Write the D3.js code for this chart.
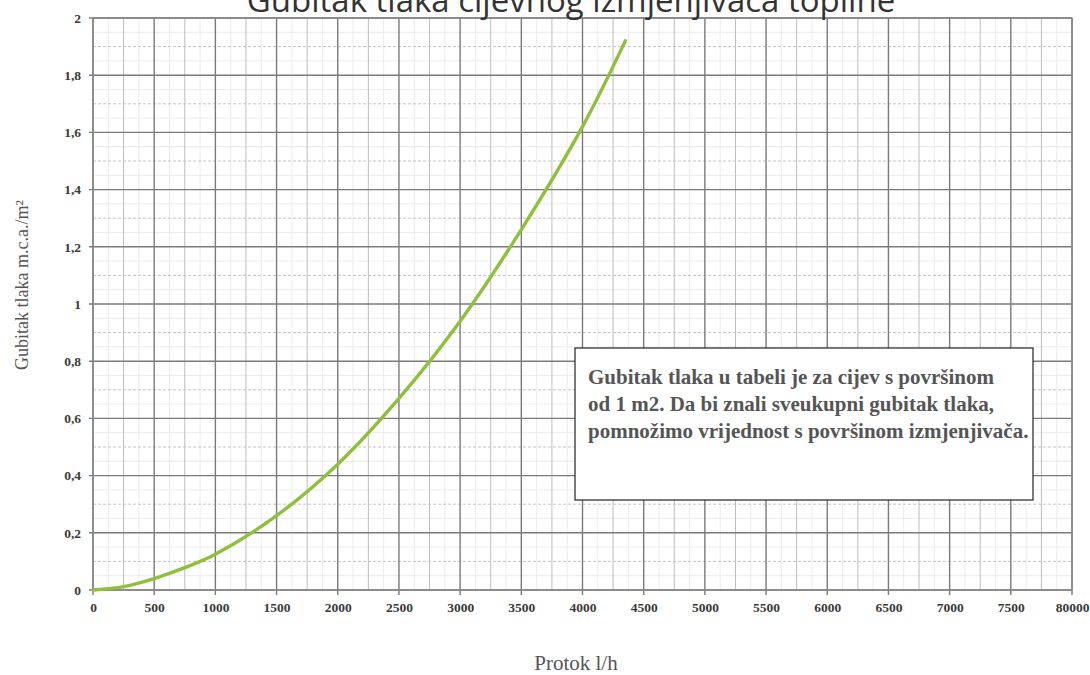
<!DOCTYPE html>
<html>
<head>
<meta charset="utf-8">
<script src="https://cdn.jsdelivr.net/npm/d3@7"></script>
<style>
  html, body { margin: 0; padding: 0; background: #fff; }
  svg { display: block; }
</style>
</head>
<body>
<svg id="chart" width="1090" height="675"></svg>
<script>
// ---- data ----
const flow = [0, 250, 500, 750, 1000, 1500, 2000, 2500, 3000, 3500, 4000, 4350];
const pressureLoss = [0, 0.012, 0.04, 0.078, 0.125, 0.26, 0.44, 0.67, 0.94, 1.26, 1.62, 1.92];
const xTickValues = [0, 500, 1000, 1500, 2000, 2500, 3000, 3500, 4000, 4500, 5000, 5500, 6000, 6500, 7000, 7500, 8000];
const xTickLabels = ["0", "500", "1000", "1500", "2000", "2500", "3000", "3500", "4000", "4500", "5000", "5500", "6000", "6500", "7000", "7500", "80000"];
const yTickValues = [0, 0.2, 0.4, 0.6, 0.8, 1, 1.2, 1.4, 1.6, 1.8, 2];
const yTickLabels = ["0", "0,2", "0,4", "0,6", "0,8", "1", "1,2", "1,4", "1,6", "1,8", "2"];
const titleText = "Gubitak tlaka cijevnog izmjenjivača topline";
const xTitle = "Protok l/h";
const yTitle = "Gubitak tlaka m.c.a./m²";
const noteLines = [
  "Gubitak tlaka u tabeli je za cijev s površinom",
  "od 1 m2. Da bi znali sveukupni gubitak tlaka,",
  "pomnožimo vrijednost s površinom izmjenjivača."
];

// ---- layout ----
const svg = d3.select("#chart");
const pL = 93, pR = 1072, pT = 18, pB = 590;
const x = d3.scaleLinear().domain([0, 8000]).range([pL, pR]);
const y = d3.scaleLinear().domain([0, 2]).range([pB, pT]);

const grid = svg.append("g");
// very faint fine grid
grid.selectAll(".fx").data(d3.range(0, 8001, 125).filter(v => v % 250 !== 0)).join("line")
  .attr("x1", d => x(d)).attr("x2", d => x(d)).attr("y1", pT).attr("y2", pB)
  .attr("stroke", "#ececec").attr("stroke-width", 1);
grid.selectAll(".fy").data(d3.range(0.05, 2, 0.1)).join("line")
  .attr("x1", pL).attr("x2", pR).attr("y1", d => y(d)).attr("y2", d => y(d))
  .attr("stroke", "#ececec").attr("stroke-width", 1);
// minor grid
grid.selectAll(".mx").data(d3.range(250, 8000, 500)).join("line")
  .attr("x1", d => x(d)).attr("x2", d => x(d)).attr("y1", pT).attr("y2", pB)
  .attr("stroke", "#bdbdbd").attr("stroke-width", 1);
grid.selectAll(".my").data(d3.range(0.1, 2, 0.2)).join("line")
  .attr("x1", pL).attr("x2", pR).attr("y1", d => y(d)).attr("y2", d => y(d))
  .attr("stroke", "#c4c4c4").attr("stroke-width", 1).attr("stroke-dasharray", "3,2");
// major grid
grid.selectAll(".Mx").data(xTickValues).join("line")
  .attr("x1", d => x(d)).attr("x2", d => x(d)).attr("y1", pT).attr("y2", pB + 5)
  .attr("stroke", "#7a7a7a").attr("stroke-width", 1.4);
grid.selectAll(".My").data(yTickValues).join("line")
  .attr("x1", pL - 4).attr("x2", pR).attr("y1", d => y(d)).attr("y2", d => y(d))
  .attr("stroke", "#7a7a7a").attr("stroke-width", 1.4);
// frame
svg.append("rect").attr("x", pL).attr("y", pT).attr("width", pR - pL).attr("height", pB - pT)
  .attr("fill", "none").attr("stroke", "#888").attr("stroke-width", 1.5);

// axes (labels only)
const xAxis = d3.axisBottom(x).tickValues(xTickValues).tickSize(0).tickPadding(12)
  .tickFormat((d, i) => xTickLabels[i]);
svg.append("g").attr("transform", `translate(0,${pB})`).call(xAxis)
  .call(g => g.select(".domain").remove())
  .selectAll("text").attr("font-family", "Liberation Serif, serif").attr("font-size", 13.5)
  .attr("font-weight", "bold").attr("fill", "#3a3a3a");
const yAxis = d3.axisLeft(y).tickValues(yTickValues).tickSize(0).tickPadding(12)
  .tickFormat((d, i) => yTickLabels[i]);
svg.append("g").attr("transform", `translate(${pL},0)`).call(yAxis)
  .call(g => g.select(".domain").remove())
  .selectAll("text").attr("font-family", "Liberation Serif, serif").attr("font-size", 13.5)
  .attr("font-weight", "bold").attr("fill", "#3a3a3a");

// curve
const line = d3.line().x((d, i) => x(flow[i])).y(d => y(d)).curve(d3.curveCatmullRom.alpha(0.5));
svg.append("path").datum(pressureLoss).attr("d", line)
  .attr("fill", "none").attr("stroke", "#8fc03c").attr("stroke-width", 3.4)
  .attr("stroke-linecap", "round");

// note box
svg.append("rect").attr("x", 575).attr("y", 348).attr("width", 458).attr("height", 152)
  .attr("fill", "#fff").attr("stroke", "#222").attr("stroke-width", 1.2);
svg.append("g").selectAll("text").data(noteLines).join("text")
  .attr("x", 588).attr("y", (d, i) => 384 + i * 27)
  .attr("font-family", "Liberation Serif, serif").attr("font-weight", "bold")
  .attr("font-size", 21).attr("fill", "#555").text(d => d);

// titles
svg.append("text").attr("x", 571).attr("y", 12).attr("text-anchor", "middle")
  .attr("font-family", "Open Sans, sans-serif").attr("font-size", 33).attr("fill", "#333")
  .text(titleText);
svg.append("text").attr("x", 576).attr("y", 670).attr("text-anchor", "middle")
  .attr("font-family", "Liberation Serif, serif").attr("font-size", 21).attr("fill", "#555")
  .text(xTitle);
svg.append("text").attr("transform", "translate(28,285) rotate(-90)").attr("text-anchor", "middle")
  .attr("font-family", "Liberation Serif, serif").attr("font-size", 18).attr("fill", "#555")
  .text(yTitle);
</script>
</body>
</html>
